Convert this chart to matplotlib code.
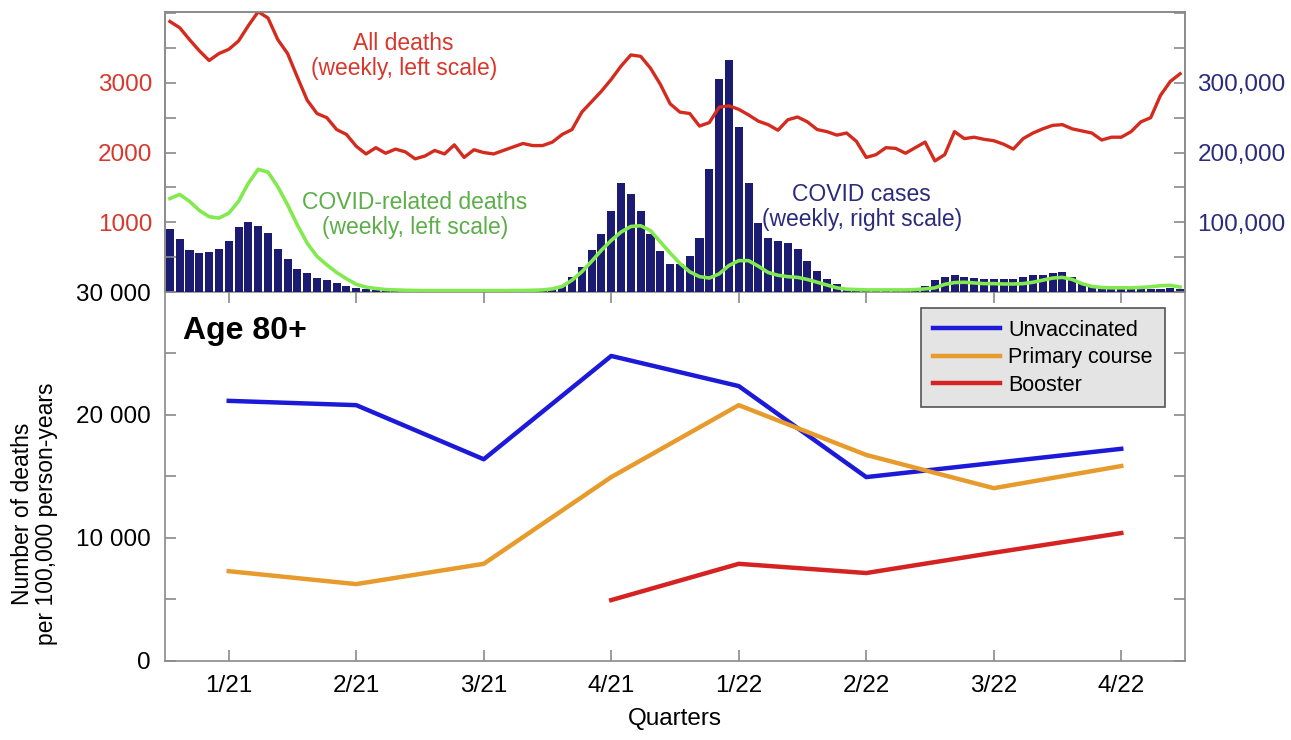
import numpy as np
import matplotlib
matplotlib.use("Agg")
import matplotlib.pyplot as plt
from matplotlib.ticker import MultipleLocator, FuncFormatter

plt.rcParams['font.family'] = ['Liberation Sans', 'DejaVu Sans']

# quarterly death rates, age 80+ (per 100,000 person-years)
quarters = ["1/21", "2/21", "3/21", "4/21", "1/22", "2/22", "3/22", "4/22"]
unvaccinated = [21150, 20800, 16400, 24800, 22350, 14950, 16100, 17250]
primary_course = [7300, 6250, 7900, 14950, 20800, 16750, 14050, 15850]
booster = [np.nan, np.nan, np.nan, 4950, 7900, 7150, 8800, 10400]

# weekly series, Jan 2021 - Dec 2022 (104 weeks)
all_deaths = [
    3880, 3790, 3620, 3460, 3320, 3420, 3480, 3600, 3820, 4020,
    3930, 3620, 3420, 3080, 2750, 2560, 2500, 2330, 2260, 2090,
    1980, 2070, 1990, 2050, 2010, 1910, 1950, 2030, 1980, 2110,
    1930, 2040, 2000, 1980, 2030, 2080, 2130, 2100, 2100, 2150,
    2260, 2330, 2580, 2730, 2880, 3050, 3240, 3400, 3380, 3210,
    2980, 2700, 2580, 2560, 2380, 2430, 2650, 2670, 2620, 2540,
    2450, 2400, 2320, 2470, 2510, 2440, 2330, 2300, 2250, 2280,
    2160, 1930, 1970, 2070, 2060, 1990, 2070, 2150, 1880, 1970,
    2300, 2200, 2220, 2190, 2170, 2120, 2050, 2200, 2280, 2340,
    2390, 2400, 2340, 2310, 2280, 2180, 2220, 2220, 2300, 2440,
    2500, 2820, 3020, 3130,
]
covid_deaths = [
    1340, 1400, 1300, 1170, 1080, 1060, 1130, 1300, 1560, 1760,
    1720, 1510, 1250, 960, 700, 510, 390, 280, 190, 110,
    70, 50, 35, 30, 25, 22, 20, 20, 20, 20,
    20, 20, 20, 20, 20, 22, 22, 25, 30, 45,
    80, 170, 290, 440, 600, 740, 860, 940, 950, 880,
    720, 560, 410, 290, 220, 200, 260, 380, 450, 450,
    370, 280, 240, 220, 210, 180, 140, 100, 60, 40,
    35, 30, 30, 30, 30, 30, 35, 45, 60, 110,
    135, 140, 130, 120, 120, 115, 115, 120, 140, 170,
    200, 210, 180, 120, 80, 65, 60, 60, 60, 65,
    75, 90, 95, 70,
]
covid_cases = [
    91000, 76000, 60000, 56000, 57000, 61000, 73000, 93000, 100000, 94000,
    84000, 61000, 47000, 33000, 27000, 20000, 17000, 13000, 9000, 6000,
    4000, 3000, 2000, 1500, 1000, 1000, 800, 800, 800, 800,
    800, 1000, 1000, 1000, 1200, 1500, 2000, 2500, 3500, 5000,
    9000, 21000, 36000, 60000, 83000, 116000, 156000, 141000, 116000, 83000,
    59000, 40000, 40000, 51000, 77000, 177000, 306000, 333000, 237000, 156000,
    99000, 77000, 73000, 70000, 61000, 44000, 30000, 18000, 11000, 6000,
    3000, 2000, 1500, 1500, 2000, 3000, 6000, 9000, 17000, 21000,
    24000, 22000, 20000, 19000, 19000, 19000, 19000, 21000, 24000, 25000,
    27000, 29000, 22000, 13000, 9000, 7000, 6000, 5000, 5000, 4000,
    4000, 5000, 6000, 5000,
]

GRID_GREY = '#8a8a8a'
TICK_SIZE = 17.5

fig = plt.figure(figsize=(12.91, 7.40), dpi=100)
ax = fig.add_axes([0.1278, 0.1068, 0.7901, 0.4986])
ax_cases = fig.add_axes([0.1278, 0.6054, 0.7901, 0.3784])
ax_deaths = ax_cases.twinx()

# --- lower panel: death rates by vaccination status ---
xq = np.arange(len(quarters)) + 0.5
ax.plot(xq, unvaccinated, color='#1c1ad8', lw=3.2, label='Unvaccinated')
ax.plot(xq, primary_course, color='#e69b2c', lw=3.2, label='Primary course')
ax.plot(xq, booster, color='#d52222', lw=3.2, label='Booster')
ax.set_xlim(0, 8)
ax.set_ylim(0, 30000)
ax.set_xticks(xq, quarters)
ax.yaxis.set_major_locator(MultipleLocator(5000))
ax.yaxis.set_major_formatter(FuncFormatter(
    lambda v, _: f"{int(v):,}".replace(",", " ") if v % 10000 == 0 else ""))
ax.tick_params(direction='in', length=8, width=1.2, color=GRID_GREY,
               top=True, right=True, labelsize=TICK_SIZE, pad=10)
for s in ax.spines.values():
    s.set_color(GRID_GREY)
    s.set_linewidth(1.2)
ax.set_xlabel('Quarters', fontsize=TICK_SIZE, labelpad=8)
ax.set_ylabel('Number of deaths\nper 100,000 person-years', fontsize=16.5,
              linespacing=1.05)
ax.yaxis.set_label_coords(-0.105, 0.40)
ax.text(0.018, 0.873, 'Age 80+', transform=ax.transAxes, fontsize=23,
        fontweight='bold', va='baseline')
leg = ax.legend(loc='upper right', bbox_to_anchor=(0.98, 0.957), fontsize=15.5,
                frameon=True, fancybox=False, framealpha=1, borderaxespad=0,
                handlelength=3.1, labelspacing=0.3, handletextpad=0.4,
                borderpad=0.55)
leg.get_frame().set_facecolor('#e4e4e4')
leg.get_frame().set_edgecolor('#555555')
leg.get_frame().set_linewidth(1.2)

# --- upper panel: weekly cases (right) and deaths (left) ---
wx = (np.arange(len(covid_cases)) + 0.5) / 13
ax_cases.bar(wx, covid_cases, width=0.82 / 13, color='#1b1b72', zorder=1)
ax_cases.set_xlim(0, 8)
ax_cases.set_ylim(0, 401600)
ax_deaths.set_ylim(0, 4016)
ax_deaths.plot(wx, all_deaths, color='#d42b1f', lw=2.4)
ax_deaths.plot(wx, covid_deaths, color='#82ea4e', lw=2.6)

ax_cases.yaxis.tick_right()
ax_cases.yaxis.set_major_locator(MultipleLocator(50000))
ax_cases.yaxis.set_major_formatter(FuncFormatter(
    lambda v, _: f"{int(v):,}" if v in (100000, 200000, 300000) else ""))
ax_cases.tick_params(axis='y', direction='in', length=8, width=1.2,
                     color=GRID_GREY, labelsize=TICK_SIZE, labelcolor='#2b2b7c',
                     pad=9)
ax_cases.tick_params(axis='x', bottom=False, labelbottom=False)

ax_deaths.yaxis.tick_left()
ax_deaths.yaxis.set_major_locator(MultipleLocator(500))
ax_deaths.yaxis.set_major_formatter(FuncFormatter(
    lambda v, _: f"{int(v)}" if v in (1000, 2000, 3000) else ""))
ax_deaths.tick_params(axis='y', direction='in', length=8, width=1.2,
                      color=GRID_GREY, labelsize=TICK_SIZE, labelcolor='#d8372b',
                      pad=9)

for a in (ax_cases, ax_deaths):
    a.spines['bottom'].set_visible(False)
    for name in ('top', 'left', 'right'):
        a.spines[name].set_color(GRID_GREY)
        a.spines[name].set_linewidth(1.2)
    a.patch.set_visible(False)

ax_deaths.text(0.234, 0.843, 'All deaths\n(weekly, left scale)',
               transform=ax_deaths.transAxes, ha='center', va='center',
               fontsize=16.5, color='#d8372b', linespacing=1.15)
ax_deaths.text(0.245, 0.275, 'COVID-related deaths\n(weekly, left scale)',
               transform=ax_deaths.transAxes, ha='center', va='center',
               fontsize=16.5, color='#5cae48', linespacing=1.15)
ax_deaths.text(0.683, 0.304, 'COVID cases\n(weekly, right scale)',
               transform=ax_deaths.transAxes, ha='center', va='center',
               fontsize=16.5, color='#2b2b7c', linespacing=1.15)

fig.savefig('out.png', dpi=100)
